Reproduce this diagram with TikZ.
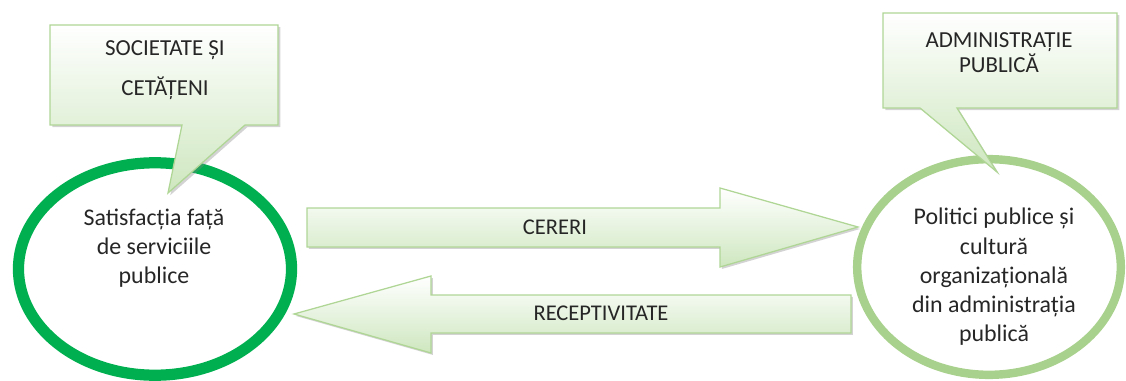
\documentclass[tikz,border=0pt]{standalone}
\usepackage{fontspec}
\setmainfont{Carlito}
\usetikzlibrary{positioning,shapes.geometric,shadows}
\definecolor{ringdark}{RGB}{0,176,80}
\definecolor{ringlight}{RGB}{169,209,142}
\definecolor{boxline}{RGB}{176,214,150}
\definecolor{boxfill}{RGB}{206,231,191}

\begin{document}
\begin{tikzpicture}[
  x=0.025cm, y=-0.025cm,
  ring/.style={ellipse, inner sep=0pt},
  bubble/.style={draw=boxline, line width=0.9pt, top color=white, bottom color=boxfill,
    drop shadow={shadow xshift=1.6pt, shadow yshift=-1.6pt, opacity=0.35}},
  flow/.style={draw=boxline, line width=0.9pt, top color=white, bottom color=boxfill,
    drop shadow={shadow xshift=1.4pt, shadow yshift=-1.4pt, opacity=0.35}},
  bubbletext/.style={align=center, text=black!85},
  flowtext/.style={font=\fontsize{16}{20}\selectfont, text=black!85},
  ringtext/.style={align=center, font=\fontsize{17}{20.8}\selectfont, text=black!85},
]
\useasboundingbox (0,0) rectangle (1126,381);

% the two actors
\node[ring, draw=ringdark, line width=8pt, minimum width=6.825cm, minimum height=5.31cm] (soc) at (155,269) {};
\node[ring, draw=ringlight, line width=6pt, minimum width=6.59cm, minimum height=5.39cm] (adm) at (989,267) {};

\node[ringtext] (sattext) at (154,248) {Satisfacția față\\de serviciile\\publice};
\node[ringtext] (poltext) at (994,277) {Politici publice și\\cultură\\organizațională\\din administrația\\publică};

% callouts
\draw[bubble] (50,25) -- (278,25) -- (278,125) -- (245,125) -- (168,193) -- (182,125) -- (50,125) -- cycle;
\node[bubbletext, font=\fontsize{16.3}{28.4}\selectfont] (soclabel) at (165,70) {SOCIETATE ȘI\\CETĂȚENI};

\draw[bubble] (883,13) -- (1117,13) -- (1117,108) -- (957,108) -- (997,172) -- (920,108) -- (883,108) -- cycle;
\node[bubbletext, font=\fontsize{16.3}{17.8}\selectfont] (admlabel) at (999,52.5) {ADMINISTRAȚIE\\PUBLICĂ};

% exchange arrows
\draw[flow] (307,208) -- (720,208) -- (720,188) -- (858,227) -- (720,267) -- (720,247) -- (307,247) -- cycle;
\node[flowtext] (cereri) at (555,227) {CERERI};

\draw[flow] (851,295) -- (431,295) -- (431,276) -- (294,314) -- (431,353) -- (431,333) -- (851,333) -- cycle;
\node[flowtext] (recept) at (601,313) {RECEPTIVITATE};

\end{tikzpicture}
\end{document}
